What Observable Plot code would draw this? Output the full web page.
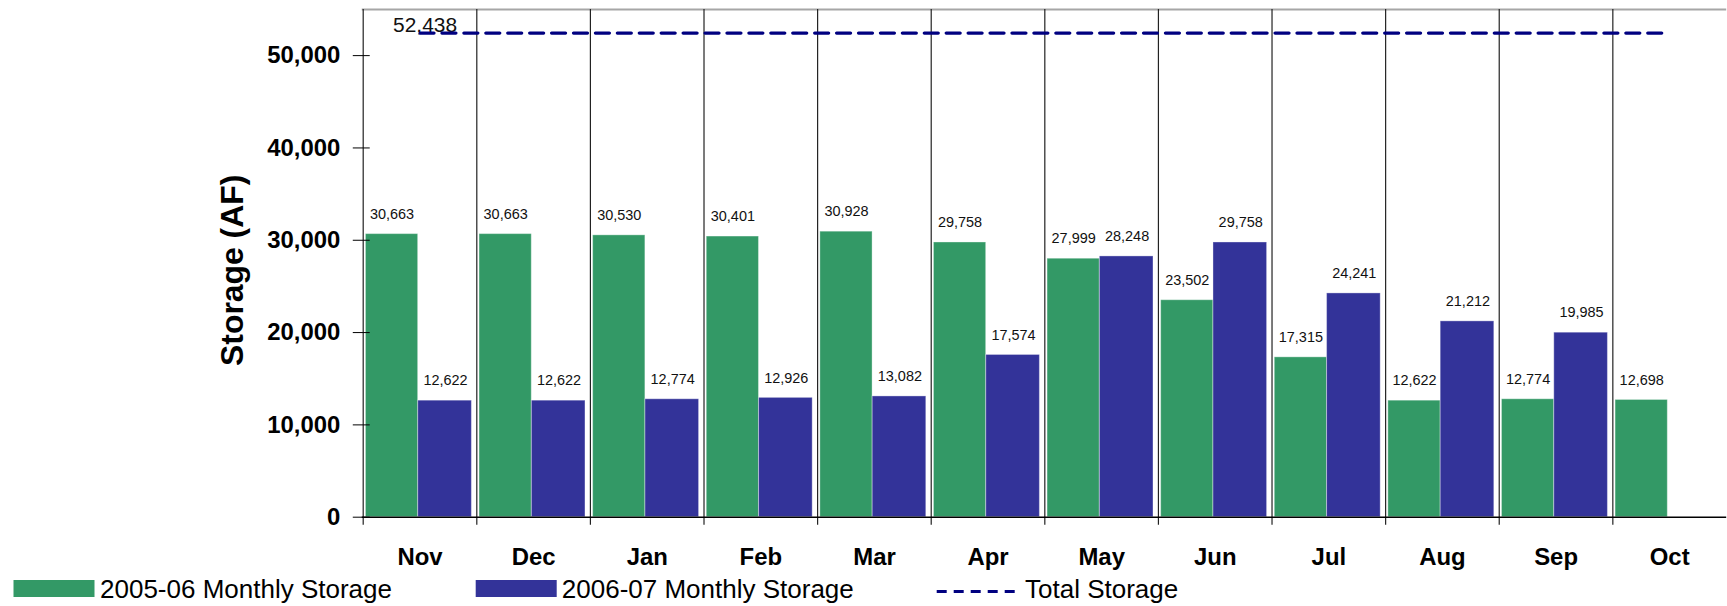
<!DOCTYPE html>
<html>
<head>
<meta charset="utf-8">
<script src="https://cdn.jsdelivr.net/npm/d3@7"></script>
<script src="https://cdn.jsdelivr.net/npm/@observablehq/plot@0.6"></script>
<style>
  html, body { margin: 0; padding: 0; background: #fff; overflow: hidden; width: 1727px; height: 606px; }
  #chart svg { display: block; }
  #legend svg { display: block; }
</style>
</head>
<body>
<div id="chart"></div>
<div id="legend"></div>
<script>
// ---- data ----
const months = ["Nov", "Dec", "Jan", "Feb", "Mar", "Apr", "May", "Jun", "Jul", "Aug", "Sep", "Oct"];
const storage0506 = [30663, 30663, 30530, 30401, 30928, 29758, 27999, 23502, 17315, 12622, 12774, 12698];
const storage0607 = [12622, 12622, 12774, 12926, 13082, 17574, 28248, 29758, 24241, 21212, 19985, null];
const totalStorage = [52438, 52438, 52438, 52438, 52438, 52438, 52438, 52438, 52438, 52438, 52438, 52438];
const seriesNames = ["2005-06 Monthly Storage", "2006-07 Monthly Storage", "Total Storage"];
const yTicks = [0, 10000, 20000, 30000, 40000, 50000];
const yMax = 55000;
const yTitle = "Storage (AF)";

// ---- styles ----
const green = "#339966";
const blue = "#333399";
const navy = "#000080";
const fmt = d3.format(",");

const rows = months.map((m, i) => ({month: m, a: storage0506[i], b: storage0607[i], total: totalStorage[i]}));
const rowsB = rows.filter(d => d.b != null);

const W = 1733;
const mL = 363;
const bw = 114.1;
const mR = W - mL - 12 * bw;

const chart = Plot.plot({
  width: W,
  height: 570,
  marginLeft: mL,
  marginRight: mR,
  marginTop: 9,
  marginBottom: 51.5,
  style: {fontFamily: "'Liberation Sans', Arial, sans-serif", background: "white", color: "black", overflow: "visible"},
  x: {type: "band", domain: months, padding: 0},
  y: {domain: [0, yMax]},
  marks: [
    Plot.ruleY([yMax], {stroke: "#a6a6a6", strokeWidth: 2}),
    Plot.ruleX(months, {x: d => d, dx: -bw / 2, insetBottom: -8, stroke: "#222", strokeWidth: 1.2}),
    Plot.barY(rows, {x: "month", y: "a", fill: green, insetLeft: 2.7, insetRight: bw - 2.7 - 52.5, stroke: "#fff", strokeOpacity: 0.35}),
    Plot.barY(rowsB, {x: "month", y: "b", fill: blue, insetLeft: 55.2, insetRight: 5, stroke: "#fff", strokeOpacity: 0.35}),
    Plot.ruleY([0], {stroke: "#000", strokeWidth: 1.5}),
    Plot.text(rows, {x: "month", y: "a", text: d => fmt(d.a), dx: -28.1, dy: -20, fontSize: 14.5, fill: "#111"}),
    Plot.text(rowsB, {x: "month", y: "b", text: d => fmt(d.b), dx: 25.5, dy: -20, fontSize: 14.5, fill: "#111"}),
    Plot.text(rows.slice(0, 1), {x: "month", y: "total", text: d => fmt(d.total), dx: 5, dy: -8, fontSize: 21, fill: "#111"}),
    Plot.lineY(rows, {x: "month", y: "total", stroke: navy, strokeWidth: 3.3, strokeDasharray: "14,8"}),
    Plot.axisY({ticks: yTicks, tickFormat: fmt, tickSize: 17, dx: 8, tickPadding: 13, fontSize: 24, fontWeight: "bold", label: null}),
    Plot.axisX({tickSize: 0, tickPadding: 31, fontSize: 24, fontWeight: "bold", label: null}),
    Plot.text([yTitle], {frameAnchor: "left", textAnchor: "middle", lineAnchor: "middle", rotate: -90, dx: -130, dy: 7, fontSize: 32, fontWeight: "bold"})
  ]
});
document.getElementById("chart").appendChild(chart);

// ---- legend ----
const lg = d3.select("#legend").append("svg")
  .attr("width", 1727).attr("height", 36)
  .style("font-family", "'Liberation Sans', Arial, sans-serif");
const items = [
  {name: seriesNames[0], kind: "rect", color: green, x: 13.5, tx: 100},
  {name: seriesNames[1], kind: "rect", color: blue, x: 475.7, tx: 561.8},
  {name: seriesNames[2], kind: "line", color: navy, x: 936.7, tx: 1025}
];
for (const it of items) {
  if (it.kind === "rect") {
    lg.append("rect").attr("x", it.x).attr("y", 12).attr("width", 81).attr("height", 17).attr("fill", it.color);
  } else {
    lg.append("line").attr("x1", it.x).attr("x2", it.x + 80).attr("y1", 23.5).attr("y2", 23.5)
      .attr("stroke", it.color).attr("stroke-width", 3).attr("stroke-dasharray", "10,7");
  }
  lg.append("text").attr("x", it.tx).attr("y", 30).attr("font-size", 26).attr("fill", "#000").text(it.name);
}
</script>
</body>
</html>
